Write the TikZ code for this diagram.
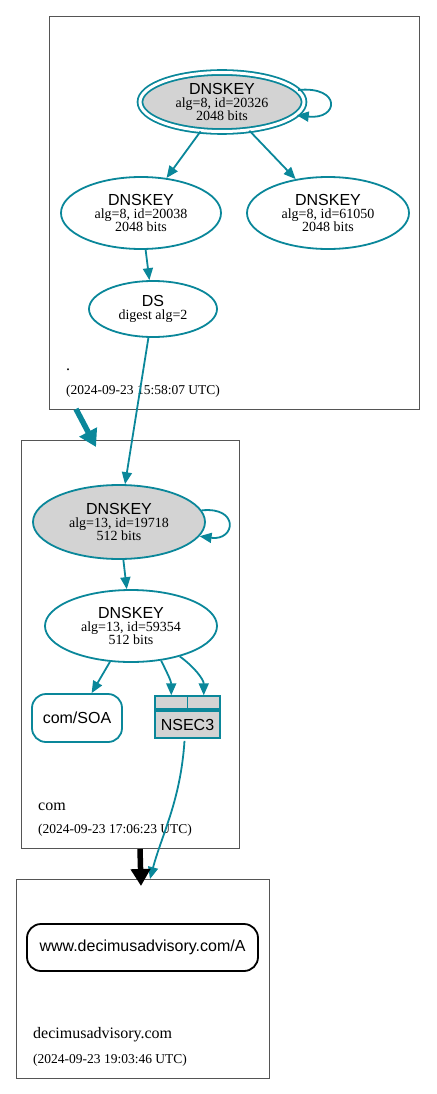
\documentclass[tikz,border=0pt]{standalone}
\usepackage{fontspec}
\setmainfont{Liberation Serif}
\setsansfont{Liberation Sans}
\usetikzlibrary{arrows.meta,shapes.geometric,calc}
\definecolor{teal}{HTML}{0A879A}
\definecolor{keygray}{HTML}{D3D3D3}
\definecolor{zonegray}{HTML}{555555}
\tikzset{
  zone/.style={draw=zonegray, line width=0.9pt, inner sep=0, fill=none},
  key/.style={ellipse, draw=teal, line width=1.8pt, inner sep=0, align=center,
    font=\fontsize{14}{13}\selectfont},
  ksk/.style={key, fill=keygray},
  edge/.style={draw=teal, line width=1.8pt, -{Triangle[length=12pt,width=10pt]}},
  rrset/.style={rounded corners=14pt, draw=teal, line width=1.8pt, inner sep=0,
    font=\sffamily\fontsize{16}{16}\selectfont},
  nsecbox/.style={rectangle, draw=teal, fill=keygray, line width=1.8pt, inner sep=0},
  zonelbl/.style={anchor=base west, inner sep=0, font=\fontsize{16}{16}\selectfont},
  datelbl/.style={anchor=base west, inner sep=0, font=\fontsize{13.5}{13.5}\selectfont},
}
\newcommand{\ktitle}{{\sffamily\fontsize{16}{16}\selectfont DNSKEY}}
\begin{document}
\begin{tikzpicture}[x=1pt,y=-1pt]
\useasboundingbox (0,0) rectangle (436,1094);
% zones
\node[zone, minimum width=370pt, minimum height=393pt] (z1) at (234,212.5) {};
\node[zone, minimum width=218pt, minimum height=408pt] (z2) at (130,644) {};
\node[zone, minimum width=253pt, minimum height=199pt] (z3) at (142.5,978.5) {};
% root zone
\node[ksk, double=white, double distance=3pt, minimum width=164pt, minimum height=59pt] (root) at (222,102)
  {\ktitle\\alg=8, id=20326\\2048 bits};
\node[key, minimum width=160pt, minimum height=72pt] (k20038) at (141,213)
  {\ktitle\\alg=8, id=20038\\2048 bits};
\node[key, minimum width=162pt, minimum height=72pt] (k61050) at (328,213)
  {\ktitle\\alg=8, id=61050\\2048 bits};
\node[key, minimum width=128pt, minimum height=56pt] (ds) at (153,309)
  {{\sffamily\fontsize{16}{16}\selectfont DS}\\digest alg=2};
\node[zonelbl] (z1name) at (66,370) {.};
\node[datelbl] (z1date) at (66,394) {(2024-09-23 15:58:07 UTC)};
% com zone
\node[ksk, minimum width=172pt, minimum height=74pt] (k19718) at (119,522)
  {\ktitle\\alg=13, id=19718\\512 bits};
\node[key, minimum width=172pt, minimum height=72pt] (k59354) at (131,626)
  {\ktitle\\alg=13, id=59354\\512 bits};
\node[rrset, minimum width=90pt, minimum height=48pt] (soa) at (77,718) {com/SOA};
\node[nsecbox, minimum width=65pt, minimum height=27pt, font=\sffamily\fontsize{16}{16}\selectfont] (nsec) at (187.5,724.5) {NSEC3};
\node[nsecbox, minimum width=32.5pt, minimum height=13pt, anchor=south west] (nseca) at (nsec.north west) {};
\node[nsecbox, minimum width=32.5pt, minimum height=13pt, anchor=south east] (nsecb) at (nsec.north east) {};
\node[zonelbl] (z2name) at (38,810) {com};
\node[datelbl] (z2date) at (38,833) {(2024-09-23 17:06:23 UTC)};
% decimusadvisory zone
\node[rrset, draw=black, minimum width=231pt, minimum height=47pt] (www) at (142.5,947.5) {www.decimusadvisory.com/A};
\node[zonelbl] (z3name) at (33,1038) {decimusadvisory.com};
\node[datelbl] (z3date) at (33,1063) {(2024-09-23 19:03:46 UTC)};
% edges
\draw[edge] (root.9) .. controls +(44,-4) and +(42,5) .. (root.-10);
\draw[edge] (root) -- (k20038);
\draw[edge] (root) -- (k61050);
\draw[edge] (k20038) -- (ds);
\draw[edge] (ds) -- (k19718);
\draw[edge] (k19718.8) .. controls +(38,-4) and +(36,5) .. (k19718.-10);
\draw[edge] (k19718) -- (k59354);
\draw[edge] (k59354) -- (soa);
\draw[edge] (k59354.-49) .. controls +(6,12) and +(0,-14) .. (nseca.north);
\draw[edge] (k59354.-32) .. controls +(14,10) and +(0,-16) .. (nsecb.north);
\coordinate (z3in) at (150,879);
\draw[edge] ($(nsec.south)+(-3,2)$) .. controls +(-4,60) and +(12,-45) .. (z3in);
% zone delegation arrows
\coordinate (d1a) at (76,409);
\coordinate (d1b) at (96,447);
\draw[draw=teal, line width=5.5pt, -{Triangle[length=17pt,width=19pt]}] (d1a) -- (d1b);
\coordinate (d2a) at (140,849);
\coordinate (d2b) at (141,886);
\draw[draw=black, line width=5.5pt, -{Triangle[length=17pt,width=19pt]}] (d2a) -- (d2b);
\end{tikzpicture}
\end{document}
